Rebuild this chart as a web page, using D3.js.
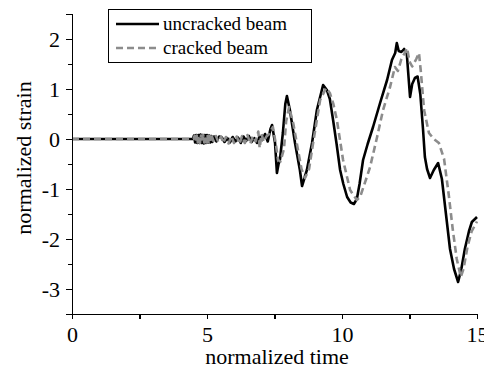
<!DOCTYPE html>
<meta charset="utf-8">
<style>
    body { margin: 0; background: #fff; }
    svg text { font-family: "Liberation Serif", Tinos, "Times New Roman", Times, "DejaVu Serif", serif !important; fill: #000; }
    .axis path, .axis line { stroke: #000; stroke-width: 1.2px; shape-rendering: crispEdges; }
    .axis text { font-size: 22px; }
    .series { fill: none; stroke-linejoin: round; }
</style>
<script src="https://d3js.org/d3.v7.min.js"></script>
<div id="chart"></div>
<script>
// values (time, normalized strain)
var uncrackedT = [0, 4.48, 4.52, 4.56, 4.6, 4.64, 4.68, 4.72, 4.76, 4.8, 4.84, 4.88, 4.92, 4.96, 5.0, 5.04, 5.08, 5.12, 5.16, 5.2, 5.26, 5.35, 5.45, 5.55, 5.65, 5.75, 5.85, 5.95, 6.05, 6.15, 6.25, 6.35, 6.45, 6.55, 6.65, 6.75, 6.85, 6.95, 7.05, 7.15, 7.25, 7.35, 7.41, 7.52, 7.59, 7.65, 7.7, 7.81, 7.9, 7.96, 8.07, 8.26, 8.44, 8.52, 8.7, 8.89, 9.07, 9.3, 9.44, 9.55, 9.67, 9.8, 9.93, 10.05, 10.19, 10.32, 10.44, 10.55, 10.65, 10.78, 10.95, 11.15, 11.41, 11.67, 11.85, 11.97, 12.03, 12.1, 12.2, 12.3, 12.4, 12.52, 12.6, 12.7, 12.8, 12.9, 13.0, 13.07, 13.15, 13.26, 13.4, 13.56, 13.7, 13.85, 14.0, 14.15, 14.3, 14.42, 14.55, 14.7, 14.81, 15.0];
var uncrackedV = [0, 0, 0.07, -0.07, 0.08, -0.08, 0.08, -0.08, 0.09, -0.08, 0.08, -0.09, 0.08, -0.08, 0.08, -0.07, 0.07, -0.07, 0.06, -0.06, 0.05, -0.05, 0.05, 0.03, -0.06, 0.02, -0.07, 0.04, -0.05, 0.03, -0.08, 0.05, -0.04, 0.06, -0.06, 0.02, -0.08, 0.05, -0.02, 0.1, -0.05, 0.2, 0.28, -0.08, -0.68, -0.5, -0.42, 0.12, 0.7, 0.86, 0.58, -0.08, -0.62, -0.94, -0.62, -0.08, 0.58, 1.08, 0.98, 0.8, 0.38, -0.1, -0.62, -0.9, -1.16, -1.27, -1.3, -1.2, -0.9, -0.42, -0.1, 0.24, 0.72, 1.18, 1.58, 1.72, 1.92, 1.76, 1.74, 1.8, 1.7, 0.84, 1.1, 1.22, 1.25, 0.9, 0.2, -0.36, -0.6, -0.78, -0.62, -0.48, -0.8, -1.5, -2.2, -2.6, -2.86, -2.6, -2.2, -1.85, -1.66, -1.56];

var crackedT = [0, 4.5, 4.54, 4.58, 4.62, 4.66, 4.7, 4.74, 4.78, 4.82, 4.86, 4.9, 4.94, 4.98, 5.02, 5.06, 5.1, 5.14, 5.18, 5.24, 5.33, 5.42, 5.52, 5.6, 5.7, 5.8, 5.9, 6.0, 6.1, 6.2, 6.3, 6.4, 6.5, 6.6, 6.7, 6.8, 6.9, 6.95, 7.02, 7.1, 7.2, 7.3, 7.44, 7.55, 7.63, 7.72, 7.85, 7.93, 8.04, 8.2, 8.37, 8.5, 8.63, 8.78, 8.93, 9.19, 9.41, 9.55, 9.68, 9.81, 9.92, 10.04, 10.3, 10.55, 10.67, 10.92, 11.04, 11.3, 11.52, 11.78, 11.96, 12.07, 12.2, 12.3, 12.41, 12.5, 12.6, 12.75, 12.85, 12.92, 13.04, 13.22, 13.4, 13.59, 13.78, 13.95, 14.1, 14.25, 14.4, 14.5, 14.65, 14.8, 15.0];
var crackedV = [0, 0, 0.06, -0.06, 0.07, -0.07, 0.07, -0.08, 0.07, -0.07, 0.08, -0.07, 0.07, -0.07, 0.06, -0.06, 0.06, -0.05, 0.05, -0.04, 0.06, -0.06, 0.05, -0.08, 0.04, -0.09, 0.06, -0.08, 0.05, -0.1, 0.06, -0.08, 0.08, -0.1, 0.06, -0.05, 0.15, -0.18, 0.1, -0.05, 0.05, 0.1, 0.24, -0.1, -0.42, -0.45, -0.2, 0.35, 0.64, 0.3, -0.22, -0.6, -0.78, -0.6, -0.08, 0.78, 1.02, 0.92, 0.7, 0.38, 0.0, -0.42, -1.02, -1.22, -1.16, -0.76, -0.56, 0.04, 0.58, 1.04, 1.44, 1.36, 1.6, 1.7, 1.82, 1.55, 1.45, 1.6, 1.72, 1.35, 0.58, 0.12, 0.0, -0.08, -0.4, -1.1, -1.8, -2.4, -2.76, -2.6, -2.15, -1.85, -1.65];

var xMajor = [0, 5, 10, 15];
var xMinor = [2.5, 7.5, 12.5];
var yMajor = [-3, -2, -1, 0, 1, 2];
var yMinor = [-2.5, -1.5, -0.5, 0.5, 1.5];
var legendNames = ["uncracked beam", "cracked beam"];

var width = 484, height = 370;
var serif = "'Liberation Serif', Tinos, 'Times New Roman', Times, 'DejaVu Serif', serif";
var svg = d3.select("#chart").append("svg")
    .attr("width", width)
    .attr("height", height)
    .attr("font-family", serif);

var x = d3.scaleLinear().domain([0, 15]).range([72, 477]);
var y = d3.scaleLinear().domain([-3.5, 2.5]).range([314, 14]);

function toPts(ts, vs) { return ts.map(function (t, i) { return [t, vs[i]]; }); }

var line = d3.line()
    .x(function (d) { return x(d[0]); })
    .y(function (d) { return y(d[1]); });

// series
svg.append("path")
    .attr("class", "series")
    .attr("d", line(toPts(uncrackedT, uncrackedV)))
    .attr("stroke", "#000")
    .attr("stroke-width", 2.6);

svg.append("path")
    .attr("class", "series")
    .attr("d", line(toPts(crackedT, crackedV)))
    .attr("stroke", "#8c8c8c")
    .attr("stroke-width", 2.6)
    .attr("stroke-dasharray", "7,4");

// axes
var gx = svg.append("g").attr("class", "axis")
    .attr("transform", "translate(0," + y(-3.5) + ")");
gx.call(d3.axisBottom(x).tickValues(xMajor).tickSize(5).tickPadding(6)
    .tickFormat(function (d) { return String(d); }));
gx.append("g").call(d3.axisBottom(x).tickValues(xMinor).tickSize(5).tickFormat(""))
    .select(".domain").remove();

var gy = svg.append("g").attr("class", "axis")
    .attr("transform", "translate(" + x(0) + ",0)");
gy.call(d3.axisLeft(y).tickValues(yMajor).tickSize(6).tickPadding(6)
    .tickFormat(function (d) { return String(d); }));
gy.append("g").call(d3.axisLeft(y).tickValues(yMinor).tickSize(4).tickFormat(""))
    .select(".domain").remove();

svg.selectAll(".axis").attr("font-family", serif).attr("font-size", 22);
gx.selectAll("text").attr("dy", "0.75em");

// axis titles
svg.append("text")
    .attr("x", 277)
    .attr("y", 364)
    .attr("text-anchor", "middle")
    .style("font-size", "22px")
    .text("normalized time");

svg.append("text")
    .attr("transform", "translate(31,158) rotate(-90)")
    .attr("text-anchor", "middle")
    .style("font-size", "22px")
    .text("normalized strain");

// legend
var legend = svg.append("g");
legend.append("rect")
    .attr("x", 108.5).attr("y", 9.5)
    .attr("width", 203).attr("height", 53)
    .attr("fill", "#fff").attr("stroke", "#000").attr("stroke-width", 1);

var legendStyles = [
    { color: "#000", dash: null },
    { color: "#8c8c8c", dash: "7,4" }
];
legendNames.forEach(function (name, i) {
    var cy = 24 + i * 24;
    legend.append("line")
        .attr("x1", 116).attr("x2", 159)
        .attr("y1", cy).attr("y2", cy)
        .attr("stroke", legendStyles[i].color)
        .attr("stroke-width", 2.6)
        .attr("stroke-dasharray", legendStyles[i].dash);
    legend.append("text")
        .attr("x", 163).attr("y", cy + 6)
        .style("font-size", "19px")
        .text(name);
});
</script>
